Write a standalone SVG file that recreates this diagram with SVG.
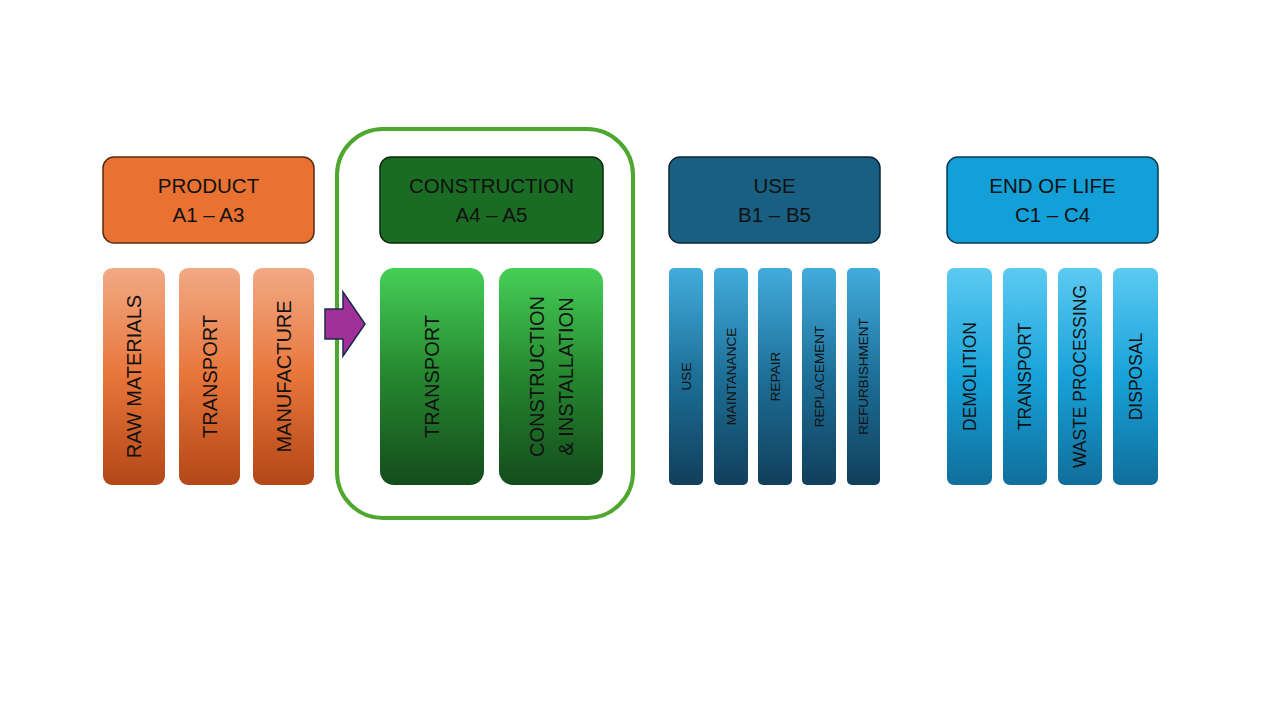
<svg xmlns="http://www.w3.org/2000/svg" width="1280" height="720" viewBox="0 0 1280 720">
<defs>
<linearGradient id="gO" x1="0" y1="0" x2="0" y2="1"><stop offset="0" stop-color="#F2A985"/><stop offset="0.5" stop-color="#E8753A"/><stop offset="1" stop-color="#B24717"/></linearGradient>
<linearGradient id="gG" x1="0" y1="0" x2="0" y2="1"><stop offset="0" stop-color="#46CF57"/><stop offset="0.5" stop-color="#25862F"/><stop offset="1" stop-color="#144C1C"/></linearGradient>
<linearGradient id="gB" x1="0" y1="0" x2="0" y2="1"><stop offset="0" stop-color="#42ACDD"/><stop offset="0.5" stop-color="#1D6F97"/><stop offset="1" stop-color="#113F5B"/></linearGradient>
<linearGradient id="gC" x1="0" y1="0" x2="0" y2="1"><stop offset="0" stop-color="#5CCAF2"/><stop offset="0.5" stop-color="#18A2D9"/><stop offset="1" stop-color="#106E9B"/></linearGradient>
</defs>
<style>
text{font-family:"Liberation Sans",Arial,sans-serif;fill:#111;text-anchor:middle}
.h{font-size:20.5px}
.hdr{stroke-width:1.5}
.v20{font-size:20px}
.v17{font-size:17.5px}
.v13{font-size:13.5px}
</style>
<rect width="1280" height="720" fill="#fff"/>

<g id="construction-frame">
<rect x="337" y="129" width="296" height="389" rx="46" fill="none" stroke="#4EA72E" stroke-width="4"/>
</g>

<g id="product">
<rect class="hdr" x="103" y="157" width="211" height="86" rx="11" fill="#E97132" stroke="#5A2A10"/>
<text class="h" x="208.5" y="193">PRODUCT</text>
<text class="h" x="208.5" y="222">A1 – A3</text>
</g>
<g id="product-raw">
<rect x="103" y="268" width="62" height="217" rx="9" fill="url(#gO)"/>
<text class="v20" transform="translate(141,376.5) rotate(-90)">RAW MATERIALS</text>
</g>
<g id="product-transport">
<rect x="179" y="268" width="61" height="217" rx="9" fill="url(#gO)"/>
<text class="v20" transform="translate(216.5,376.5) rotate(-90)">TRANSPORT</text>
</g>
<g id="product-manufacture">
<rect x="253" y="268" width="61" height="217" rx="9" fill="url(#gO)"/>
<text class="v20" transform="translate(290.5,376.5) rotate(-90)">MANUFACTURE</text>
</g>

<g id="connectors">
<path d="M325,309 L343,309 L343,292 L365,324 L343,356 L343,339 L325,339 Z" fill="#A0309A" stroke="#1C2A48" stroke-width="1.5" stroke-linejoin="miter"/>
</g>

<g id="construction">
<rect class="hdr" x="380" y="157" width="223" height="86" rx="11" fill="#1A6B23" stroke="#0B2A0E"/>
<text class="h" x="491.5" y="193">CONSTRUCTION</text>
<text class="h" x="491.5" y="222">A4 – A5</text>
</g>
<g id="construction-transport">
<rect x="380" y="268" width="104" height="217" rx="14" fill="url(#gG)"/>
<text class="v20" transform="translate(439,376.5) rotate(-90)">TRANSPORT</text>
</g>
<g id="construction-installation">
<rect x="499" y="268" width="104" height="217" rx="14" fill="url(#gG)"/>
<text class="v20" transform="translate(544,376.5) rotate(-90)">CONSTRUCTION</text>
<text class="v20" transform="translate(573,376.5) rotate(-90)">&amp; INSTALLATION</text>
</g>

<g id="use">
<rect class="hdr" x="669" y="157" width="211" height="86" rx="11" fill="#195F82" stroke="#0B2536"/>
<text class="h" x="774.5" y="193">USE</text>
<text class="h" x="774.5" y="222">B1 – B5</text>
</g>
<g id="use-use">
<rect x="669" y="268" width="34" height="217" rx="5" fill="url(#gB)"/>
<text class="v13" transform="translate(690.5,376.5) rotate(-90)">USE</text>
</g>
<g id="use-maintanance">
<rect x="714" y="268" width="34" height="217" rx="5" fill="url(#gB)"/>
<text class="v13" transform="translate(735.5,376.5) rotate(-90)">MAINTANANCE</text>
</g>
<g id="use-repair">
<rect x="758" y="268" width="34" height="217" rx="5" fill="url(#gB)"/>
<text class="v13" transform="translate(779.5,376.5) rotate(-90)">REPAIR</text>
</g>
<g id="use-replacement">
<rect x="802" y="268" width="34" height="217" rx="5" fill="url(#gB)"/>
<text class="v13" transform="translate(823.5,376.5) rotate(-90)">REPLACEMENT</text>
</g>
<g id="use-refurbishment">
<rect x="847" y="268" width="33" height="217" rx="5" fill="url(#gB)"/>
<text class="v13" transform="translate(868,376.5) rotate(-90)">REFURBISHMENT</text>
</g>

<g id="end-of-life">
<rect class="hdr" x="947" y="157" width="211" height="86" rx="11" fill="#139FD8" stroke="#0B3A52"/>
<text class="h" x="1052.5" y="193">END OF LIFE</text>
<text class="h" x="1052.5" y="222">C1 – C4</text>
</g>
<g id="eol-demolition">
<rect x="947" y="268" width="45" height="217" rx="7" fill="url(#gC)"/>
<text class="v17" transform="translate(975.5,376.5) rotate(-90)">DEMOLITION</text>
</g>
<g id="eol-transport">
<rect x="1003" y="268" width="44" height="217" rx="7" fill="url(#gC)"/>
<text class="v17" transform="translate(1031,376.5) rotate(-90)">TRANSPORT</text>
</g>
<g id="eol-waste">
<rect x="1058" y="268" width="44" height="217" rx="7" fill="url(#gC)"/>
<text class="v17" transform="translate(1086,376.5) rotate(-90)">WASTE PROCESSING</text>
</g>
<g id="eol-disposal">
<rect x="1113" y="268" width="45" height="217" rx="7" fill="url(#gC)"/>
<text class="v17" transform="translate(1141.5,376.5) rotate(-90)">DISPOSAL</text>
</g>
</svg>
